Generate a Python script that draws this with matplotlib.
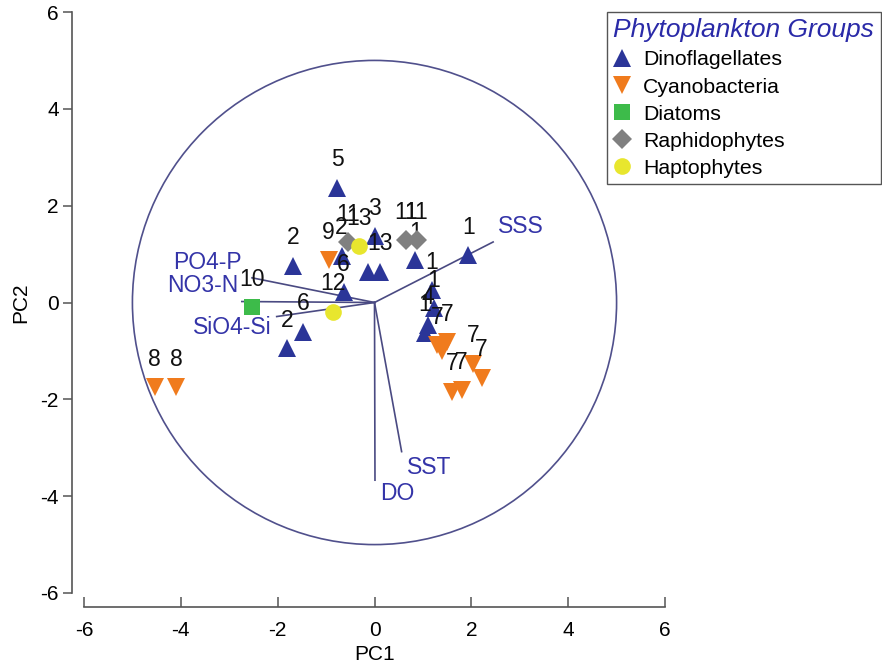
import matplotlib
matplotlib.use("Agg")
import matplotlib.pyplot as plt
from matplotlib.patches import Circle
from matplotlib.lines import Line2D

plt.rcParams['font.family'] = ['Liberation Sans', 'DejaVu Sans']
plt.rcParams['axes.unicode_minus'] = False

# ---- data -------------------------------------------------------------
groups = ["Dinoflagellates", "Cyanobacteria", "Diatoms", "Raphidophytes", "Haptophytes"]

dino_x = [-0.77, -1.68, -0.68, 0.00, -0.13, 0.11, -0.64, 0.84, 1.94, 1.18, 1.22, 1.10, 1.04, -1.47, -1.81]
dino_y = [2.37, 0.76, 0.97, 1.37, 0.64, 0.64, 0.22, 0.88, 0.98, 0.26, -0.12, -0.47, -0.62, -0.60, -0.95]
dino_lab = ["5", "2", "2", "3", "", "13", "6", "1", "1", "1", "1", "4", "1", "6", "2"]

cyano_x = [-0.95, -4.54, -4.10, 1.30, 1.50, 1.40, 2.04, 2.21, 1.60, 1.80]
cyano_y = [0.88, -1.75, -1.75, -0.88, -0.82, -1.00, -1.26, -1.55, -1.84, -1.81]
cyano_lab = ["9", "8", "8", "7", "7", "", "7", "7", "7", "7"]

diatom_x = [-2.54]
diatom_y = [-0.09]
diatom_lab = ["10"]

raphido_x = [-0.54, 0.66, 0.87]
raphido_y = [1.24, 1.29, 1.29]
raphido_lab = ["11", "11", "11"]

hapto_x = [-0.33, -0.85]
hapto_y = [1.17, -0.19]
hapto_lab = ["13", "12"]

# environmental loading vectors
vec_names = ["SSS", "SST", "DO", "PO4-P", "NO3-N", "SiO4-Si"]
vec_x = [2.45, 0.56, 0.01, -2.53, -2.74, -2.02]
vec_y = [1.25, -3.08, -3.67, 0.51, 0.02, -0.29]

circle_radius = 5.0
ticks = [-6, -4, -2, 0, 2, 4, 6]

# ---- styling ----------------------------------------------------------
styles = {
    "Dinoflagellates": dict(marker="^", color="#2b3598", ms=13),
    "Cyanobacteria": dict(marker="v", color="#f07b1d", ms=13),
    "Diatoms": dict(marker="s", color="#3dbb4a", ms=11),
    "Raphidophytes": dict(marker="D", color="#808080", ms=10),
    "Haptophytes": dict(marker="o", color="#e8e62e", ms=12),
}
series = {
    "Dinoflagellates": (dino_x, dino_y, dino_lab),
    "Cyanobacteria": (cyano_x, cyano_y, cyano_lab),
    "Diatoms": (diatom_x, diatom_y, diatom_lab),
    "Raphidophytes": (raphido_x, raphido_y, raphido_lab),
    "Haptophytes": (hapto_x, hapto_y, hapto_lab),
}
# text placement for vector names: (dx, dy) in data units from the tip, ha
vec_label_place = {
    "SSS": (0.10, 0.33, "left"),
    "SST": (0.11, -0.32, "left"),
    "DO": (0.10, -0.27, "left"),
    "PO4-P": (-0.21, 0.31, "right"),
    "NO3-N": (-0.08, 0.34, "right"),
    "SiO4-Si": (-0.10, -0.23, "right"),
}
vec_color = "#4a4a82"
vec_text_color = "#3434a8"

fig = plt.figure(figsize=(8.82, 6.71), dpi=100)
ax = fig.add_axes([84 / 882, 78 / 671, 581 / 882, 581 / 671])
ax.set_xlim(-6, 6)
ax.set_ylim(-6, 6)

# correlation circle
ax.add_patch(Circle((0, 0), circle_radius, fill=False, ec="#50508c", lw=1.2, zorder=1))

# loading vectors
for name, vx, vy in zip(vec_names, vec_x, vec_y):
    ax.plot([0, vx], [0, vy], color=vec_color, lw=1.2, zorder=2)
    dx, dy, ha = vec_label_place[name]
    ax.text(vx + dx, vy + dy, name, ha=ha, va="center", fontsize=16.5,
            color=vec_text_color, zorder=2)

# samples with their labels
z = 3
for g in groups:
    xs, ys, labs = series[g]
    st = styles[g]
    ax.plot(xs, ys, linestyle="none", marker=st["marker"], color=st["color"],
            markersize=st["ms"], markeredgewidth=0, zorder=z)
    for x, y, lab in zip(xs, ys, labs):
        if lab:
            ax.annotate(lab, (x, y), xytext=(0, 20), textcoords="offset points",
                        ha="center", va="center", fontsize=16.5, color="#111111",
                        zorder=z)
    z += 1

# axes styling
for side in ("top", "right"):
    ax.spines[side].set_visible(False)
ax.spines["left"].set_position(("outward", 8.6))
ax.spines["bottom"].set_position(("outward", 10))
for side in ("left", "bottom"):
    ax.spines[side].set_color("#555555")
    ax.spines[side].set_linewidth(1.2)
ax.set_xticks(ticks)
ax.set_yticks(ticks)
ax.tick_params(axis="y", direction="out", length=6.5, width=1.1, color="#555555",
               labelsize=15, pad=3)
ax.tick_params(axis="x", direction="in", length=7, width=1.1, color="#555555",
               labelsize=15, pad=10)
ax.set_xlabel("PC1", fontsize=15)
ax.set_ylabel("PC2", fontsize=15)
ax.xaxis.set_label_coords(0.5, -0.089)
ax.yaxis.set_label_coords(-0.093, 0.5)

# legend
handles = [Line2D([], [], linestyle="none", marker=styles[g]["marker"],
                  color=styles[g]["color"], markersize=styles[g]["ms"],
                  markeredgewidth=0) for g in groups]
leg = fig.legend(handles, groups, loc="upper left",
                 bbox_to_anchor=(607 / 882, 1 - 12 / 671), borderaxespad=0,
                 fontsize=15.3, title="Phytoplankton Groups",
                 title_fontproperties={"size": 19, "style": "italic"},
                 alignment="left", fancybox=False, framealpha=1,
                 edgecolor="#555555", handlelength=0.8, handletextpad=0.6,
                 labelspacing=0.38, borderpad=0.3)
leg.get_title().set_color("#2a2aa8")
leg.get_frame().set_linewidth(1.0)

fig.savefig("out.png", dpi=100)
